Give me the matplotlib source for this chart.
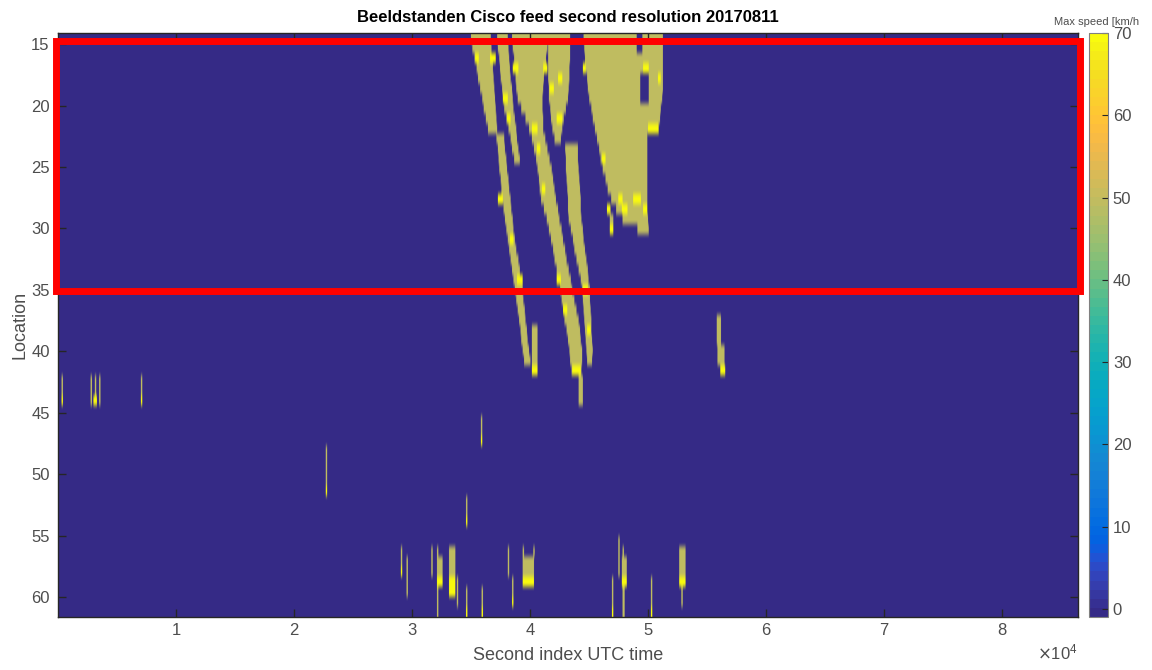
import numpy as np
import matplotlib
matplotlib.use('Agg')
import matplotlib.pyplot as plt
from matplotlib.colors import ListedColormap
from matplotlib.patches import Rectangle

plt.rcParams['font.family'] = ['Liberation Sans', 'DejaVu Sans']

# MATLAB parula (64 steps)
parula = ListedColormap([
    [0.2081, 0.1663, 0.5292], [0.2116, 0.1898, 0.5777], [0.2123, 0.2138, 0.6270], [0.2081, 0.2386, 0.6771],
    [0.1959, 0.2645, 0.7279], [0.1707, 0.2919, 0.7792], [0.1253, 0.3242, 0.8303], [0.0591, 0.3598, 0.8683],
    [0.0117, 0.3875, 0.8820], [0.0060, 0.4086, 0.8828], [0.0165, 0.4266, 0.8786], [0.0329, 0.4430, 0.8720],
    [0.0498, 0.4586, 0.8641], [0.0629, 0.4737, 0.8554], [0.0723, 0.4887, 0.8467], [0.0779, 0.5040, 0.8384],
    [0.0793, 0.5200, 0.8312], [0.0749, 0.5375, 0.8263], [0.0641, 0.5570, 0.8240], [0.0488, 0.5772, 0.8228],
    [0.0343, 0.5966, 0.8199], [0.0265, 0.6137, 0.8135], [0.0239, 0.6287, 0.8038], [0.0231, 0.6418, 0.7913],
    [0.0228, 0.6535, 0.7768], [0.0267, 0.6642, 0.7607], [0.0384, 0.6743, 0.7436], [0.0590, 0.6838, 0.7254],
    [0.0843, 0.6928, 0.7062], [0.1133, 0.7015, 0.6859], [0.1453, 0.7098, 0.6646], [0.1801, 0.7177, 0.6424],
    [0.2178, 0.7250, 0.6193], [0.2586, 0.7317, 0.5954], [0.3022, 0.7376, 0.5712], [0.3482, 0.7424, 0.5473],
    [0.3953, 0.7459, 0.5244], [0.4420, 0.7481, 0.5033], [0.4871, 0.7491, 0.4840], [0.5300, 0.7491, 0.4661],
    [0.5709, 0.7485, 0.4494], [0.6099, 0.7473, 0.4337], [0.6473, 0.7456, 0.4188], [0.6834, 0.7435, 0.4044],
    [0.7184, 0.7411, 0.3905], [0.7525, 0.7384, 0.3768], [0.7858, 0.7356, 0.3633], [0.8185, 0.7327, 0.3498],
    [0.8507, 0.7299, 0.3360], [0.8824, 0.7274, 0.3217], [0.9139, 0.7258, 0.3063], [0.9450, 0.7261, 0.2886],
    [0.9739, 0.7314, 0.2666], [0.9938, 0.7455, 0.2403], [0.9990, 0.7653, 0.2164], [0.9955, 0.7861, 0.1967],
    [0.9880, 0.8066, 0.1794], [0.9789, 0.8271, 0.1633], [0.9697, 0.8481, 0.1475], [0.9626, 0.8705, 0.1309],
    [0.9589, 0.8949, 0.1132], [0.9598, 0.9218, 0.0948], [0.9661, 0.9514, 0.0755], [0.9763, 0.9831, 0.0538]])

# grid: seconds of the day x location rows
day_seconds = 86400
bin_s = 60
loc_top, loc_bottom = 14.1, 61.6
n_rows = 58

# congestion bands (speed 50): locations with left/right time edges in seconds
band_s1 = dict(loc=[14.1, 22.0, 22.6, 29.7, 34.8, 37.5, 41.3],
               left=[34900, 36450, 37163, 37926, 38689, 39070, 39621],
               right=[36612, 37205, 37756, 38519, 39282, 39578, 40045])
band_s2 = dict(loc=[14.1, 19.6, 25.0],
               left=[37205, 37714, 38816], right=[38053, 38477, 39155])
band_s3 = dict(loc=[14.1, 19.3, 22.0, 24.7, 27.5, 29.6, 33.4, 37.5, 40.3, 42.2],
               left=[38477, 38900, 40002, 40595, 40934, 41528, 42290, 42968, 43392, 43562],
               right=[41528, 41000, 41104, 41697, 42121, 42545, 43223, 44070, 44409, 44240])
band_s4 = dict(loc=[23.4, 29.3, 34.8, 40.1, 41.3],
               left=[42968, 43307, 44409, 44833, 44918], right=[43985, 44324, 45002, 45257, 45172])
band_s5 = dict(loc=[14.1, 19.3, 21.6, 22.8],
               left=[41528, 41600, 41867, 42121], right=[43392, 43223, 42714, 42545])
band_blob = dict(loc=[14.1, 17.9, 19.0, 20.6, 21.75, 22.6, 25.25, 27.45, 29.1, 30.1],
                 left=[44494, 44833, 44918, 45257, 45511, 45680, 46189, 46782, 47630, 49155],
                 right=[51189, 51189, 51189, 51019, 50850, 49918, 49918, 49918, 49918, 50003])
bands = [band_s1, band_s2, band_s3, band_s4, band_s5, band_blob]

# free-flow holes inside the jam: (t0, t1, loc0, loc1)
holes = [(49325, 50003, 17.4, 19.8), (49071, 49494, 14.1, 15.7)]

# high-speed spots (70) inside the jam: (t0, t1, loc0, loc1)
fast_spots = [
    (35341, 35595, 15.7, 16.5), (36612, 37035, 15.7, 16.5), (38561, 38985, 16.5, 17.4),
    (37714, 38053, 19.2, 20.0), (41104, 41443, 16.5, 17.4), (41697, 41951, 18.3, 19.2),
    (42375, 42714, 17.5, 18.3), (42290, 42714, 20.8, 21.6), (40172, 40595, 21.8, 22.4),
    (40595, 40850, 23.4, 24.2), (46104, 46358, 24.3, 25.0), (49579, 50003, 16.5, 17.4),
    (50850, 51019, 17.4, 18.2), (50003, 50850, 21.8, 22.4), (47460, 47799, 26.9, 27.7),
    (47799, 48223, 27.7, 28.5), (48731, 49325, 26.9, 27.7), (46528, 46782, 27.7, 28.5),
    (49579, 49918, 27.7, 28.5), (37290, 37629, 26.9, 27.7), (41019, 41273, 26.1, 26.9),
    (38053, 38307, 20.6, 21.4), (44494, 44663, 16.5, 17.4), (43562, 44240, 41.3, 42.1),
    (40172, 40595, 41.3, 42.1), (38307, 38561, 30.1, 31.0), (38900, 39324, 34.0, 34.8),
    (42290, 42545, 33.4, 34.2), (42799, 43138, 36.1, 37.2), (44494, 44833, 34.5, 35.3),
    (44833, 45087, 37.7, 38.5), (46782, 47036, 29.3, 30.1)]

# short isolated records: (t0, t1, loc0, loc1, speed)
jam_extras = [
    (40172, 40595, 38.0, 41.3, 50), (44155, 44409, 42.2, 44.5, 50), (46782, 47036, 28.5, 29.3, 50)]
left_events = [
    (339, 339, 42.2, 43.8, 50), (339, 339, 43.8, 44.6, 70), (2771, 2771, 42.2, 44.6, 50),
    (3136, 3136, 42.2, 43.8, 50), (3000, 3250, 43.8, 44.6, 70), (3500, 3500, 42.2, 44.6, 50),
    (7034, 7034, 42.2, 43.8, 50), (7034, 7034, 43.8, 44.6, 70)]
middle_events = [
    (35849, 35849, 45.6, 47.2, 50), (35849, 35849, 47.2, 48.0, 70),
    (22713, 22713, 48.0, 50.6, 50), (22713, 22713, 50.6, 51.5, 70),
    (34578, 34578, 51.5, 53.2, 50), (34578, 34578, 53.2, 54.0, 70),
    (55851, 56100, 37.1, 39.5, 50), (55900, 56400, 39.5, 41.3, 50), (56150, 56500, 41.3, 42.1, 70)]
bottom_events = [
    (29041, 29041, 55.9, 57.6, 50), (29041, 29041, 57.6, 58.4, 70), (29550, 29550, 56.7, 60.0, 50),
    (31669, 31669, 55.9, 58.4, 50), (32110, 32200, 55.9, 61.6, 50), (32200, 32534, 56.7, 58.4, 50),
    (32110, 32534, 58.4, 59.2, 70), (33137, 33645, 55.9, 58.4, 50), (33137, 33645, 58.4, 60.0, 70),
    (33814, 33814, 58.4, 60.8, 50), (34578, 34578, 59.3, 60.8, 50), (34578, 34578, 60.8, 61.6, 70),
    (35934, 35934, 59.3, 60.8, 50), (35934, 35934, 60.8, 61.6, 70), (38138, 38138, 55.9, 58.4, 50),
    (38477, 38477, 58.4, 60.0, 50), (38477, 38477, 60.0, 60.8, 70), (39384, 40283, 56.7, 58.4, 50),
    (39384, 40283, 58.4, 59.2, 70), (39384, 39384, 55.9, 56.7, 50), (40283, 40283, 55.9, 56.7, 50),
    (46952, 46952, 58.4, 60.8, 50), (46952, 46952, 60.8, 61.6, 70), (47460, 47460, 55.0, 58.4, 50),
    (47799, 48138, 56.7, 58.4, 50), (47799, 48138, 58.4, 59.2, 70), (47850, 47950, 59.2, 61.6, 50),
    (47850, 47850, 55.9, 56.7, 50), (50257, 50257, 58.4, 60.8, 50), (50257, 50257, 60.8, 61.6, 70),
    (52630, 53139, 55.9, 58.4, 50), (52630, 53139, 58.4, 59.2, 70), (52800, 52900, 59.2, 60.8, 50)]

# build the speed matrix
row_edges = np.linspace(loc_top, loc_bottom, n_rows + 1)
row_c = (row_edges[:-1] + row_edges[1:]) / 2
col_c = (np.arange(day_seconds // bin_s) + 0.5) * bin_s
speed = np.zeros((n_rows, len(col_c)))


def rows_in(l0, l1):
    idx = np.where((row_c >= l0) & (row_c <= l1))[0]
    if len(idx) == 0:
        idx = [np.argmin(abs(row_c - (l0 + l1) / 2))]
    return idx


def fill(t0, t1, l0, l1, v):
    c0 = int(t0 // bin_s)
    c1 = max(int(t1 // bin_s), c0 + 1)  # at least two bins so single records stay visible
    for r in rows_in(l0, l1):
        speed[r, c0:c1 + 1] = v


for b in bands:
    for r in rows_in(b['loc'][0], b['loc'][-1]):
        lt = np.interp(row_c[r], b['loc'], b['left'])
        rt = np.interp(row_c[r], b['loc'], b['right'])
        fill(lt, rt, row_c[r], row_c[r], 50)
for t0, t1, l0, l1 in holes:
    fill(t0, t1, l0, l1, 0)
for t0, t1, l0, l1, v in jam_extras:
    fill(t0, t1, l0, l1, v)
for t0, t1, l0, l1 in fast_spots:
    fill(t0, t1, l0, l1, 70)
for t0, t1, l0, l1, v in left_events + middle_events + bottom_events:
    fill(t0, t1, l0, l1, v)

fig = plt.figure(figsize=(11.52, 6.70), dpi=100)
ax = fig.add_axes([58 / 1152, 53 / 670, 1020 / 1152, 584 / 670])
cax = fig.add_axes([1089 / 1152, 53 / 670, 19 / 1152, 584 / 670])

im = ax.imshow(speed, cmap=parula, vmin=-1, vmax=70, aspect='auto',
               extent=[0, day_seconds, loc_bottom, loc_top])
ax.set_xlim(0, day_seconds)
ax.set_ylim(loc_bottom, loc_top)
ax.set_xticks(np.arange(10000, 80001, 10000))
ax.set_yticks(np.arange(15, 61, 5))
ax.ticklabel_format(axis='x', style='sci', scilimits=(4, 4), useMathText=True)
ax.tick_params(direction='in', length=6, width=1, top=True, right=True,
               labelsize=12, labelcolor='#4d4d4d', color='#262626')
ax.tick_params(axis='y', pad=6)
ax.xaxis.get_offset_text().set_fontsize(12)
ax.xaxis.get_offset_text().set_color('#4d4d4d')
for s in ax.spines.values():
    s.set_color('#262626')
    s.set_linewidth(1)

# red highlight box
ax.add_patch(Rectangle((-150, 14.75), 86750, 20.35, fill=False, edgecolor='red',
                       linewidth=5, clip_on=False, zorder=5))

cb = fig.colorbar(im, cax=cax)
cb.set_ticks(np.arange(0, 71, 10))
cax.tick_params(direction='in', length=4, labelsize=12, labelcolor='#4d4d4d', color='#262626')
cb.outline.set_edgecolor('#808080')
cb.outline.set_linewidth(0.8)

fig.text(568 / 1152, 1 - 18 / 670, 'Beeldstanden Cisco feed second resolution 20170811',
         ha='center', va='center', fontsize=12, fontweight='bold')
fig.text(568 / 1152, 1 - 656 / 670, 'Second index UTC time', ha='center', va='center',
         fontsize=13, color='#4d4d4d')
fig.text(20 / 1152, 1 - 325 / 670, 'Location', ha='center', va='center', rotation=90,
         fontsize=13, color='#4d4d4d')
fig.text(1097 / 1152, 1 - 22 / 670, 'Max speed [km/h', ha='center', va='center',
         fontsize=8, color='#4d4d4d')

fig.savefig('out.png', dpi=100)
